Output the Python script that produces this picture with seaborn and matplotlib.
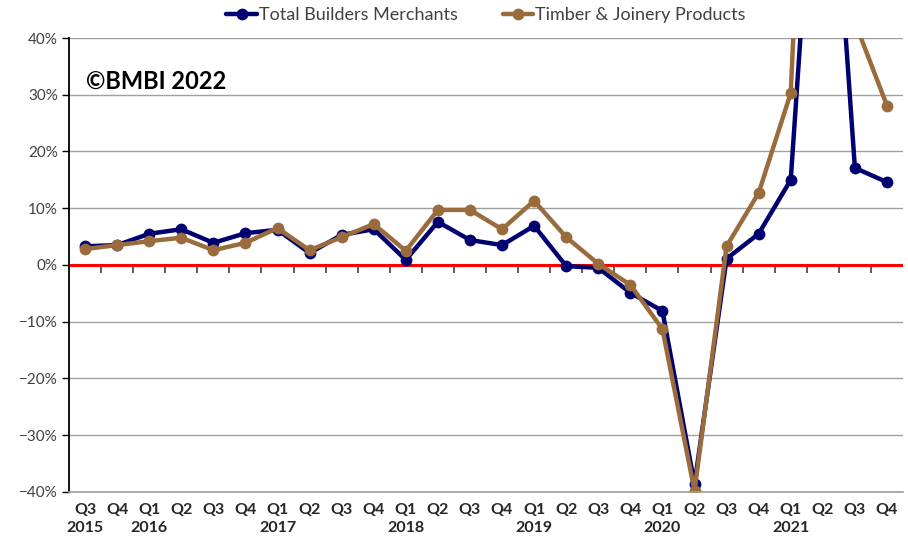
import pandas as pd
import numpy as np
import seaborn as sns
import matplotlib.pyplot as plt
from matplotlib.markers import TICKDOWN
from matplotlib.ticker import PercentFormatter

# quarter labels, Q3 2015 .. Q4 2021
quarters = ['Q3', 'Q4',
            'Q1', 'Q2', 'Q3', 'Q4',
            'Q1', 'Q2', 'Q3', 'Q4',
            'Q1', 'Q2', 'Q3', 'Q4',
            'Q1', 'Q2', 'Q3', 'Q4',
            'Q1', 'Q2', 'Q3', 'Q4',
            'Q1', 'Q2', 'Q3', 'Q4']
years = ['2015', '',
         '2016', '', '', '',
         '2017', '', '', '',
         '2018', '', '', '',
         '2019', '', '', '',
         '2020', '', '', '',
         '2021', '', '', '']

# year on year % change
total_bm = [3.3, 3.5, 5.5, 6.3, 3.9, 5.6, 6.2, 2.1, 5.3, 6.3,
            0.9, 7.6, 4.4, 3.5, 6.9, -0.2, -0.5, -4.9, -8.1, -38.6,
            1.1, 5.5, 15.0, 98.0, 17.1, 14.6]
timber = [2.8, 3.5, 4.2, 4.8, 2.6, 3.9, 6.5, 2.6, 4.9, 7.2,
          2.5, 9.7, 9.7, 6.3, 11.3, 4.9, 0.2, -3.5, -11.3, -39.8,
          3.3, 12.7, 30.3, 155.0, 42.8, 28.1]

series_names = ['Total Builders Merchants', 'Timber & Joinery Products']
series_colors = ['#000070', '#9A6B3C']

idx = np.arange(len(quarters))
df = pd.DataFrame({'idx': np.concatenate([idx, idx]),
                   'value': total_bm + timber,
                   'series': [series_names[0]] * len(idx) + [series_names[1]] * len(idx)})

sns.set_theme(style='white')
plt.rcParams['font.family'] = ['Lato', 'DejaVu Sans']

fig = plt.figure(figsize=(9.08, 5.4), dpi=100)
ax = fig.add_axes([0.076, 0.089, 0.9185, 0.8406])

for name, col in zip(series_names, series_colors):
    sns.lineplot(data=df[df['series'] == name], x='idx', y='value', ax=ax,
                 color=col, linewidth=3.2, marker='o', markersize=8.5,
                 markeredgewidth=0, label=name)

ax.set_xlim(-0.5, len(quarters) - 0.5)
ax.set_ylim(-40, 40)
ax.set_yticks(np.arange(-40, 41, 10))
ax.yaxis.set_major_formatter(PercentFormatter(decimals=0))
ax.grid(axis='y', color='#A0A0A0', linewidth=1)
ax.set_axisbelow(True)

# zero line is the category axis, small ticks between quarters
ax.axhline(0, color='#FF0000', linewidth=2.2, zorder=1.5)
boundaries = idx[:-1] + 0.5
ax.plot(boundaries, np.zeros(len(boundaries)), linestyle='none', marker=TICKDOWN,
        markersize=6, markeredgewidth=1.2, markeredgecolor='#404040',
        color='#404040', zorder=1.45)

labels = [q + '\n' + y if y else q for q, y in zip(quarters, years)]
ax.set_xticks(idx)
ax.set_xticklabels(labels, fontweight='bold', fontsize=11.5, linespacing=1.4)
ax.tick_params(axis='x', length=0, pad=8)
ax.tick_params(axis='y', length=5, width=1, color='black', left=True,
               labelsize=11, labelcolor='#404040', pad=3)

ax.set_xlabel('')
ax.set_ylabel('')
for s in ['top', 'right']:
    ax.spines[s].set_visible(False)
ax.spines['left'].set_color('black')
ax.spines['left'].set_linewidth(1.3)
ax.spines['bottom'].set_color('#A0A0A0')

ax.text(0.02, 0.93, '\u00a9BMBI 2022', transform=ax.transAxes, fontsize=17,
        fontweight='bold', color='black', va='top', ha='left')

ax.legend(loc='center', bbox_to_anchor=(0.5, 1.05), ncol=2, frameon=False,
          fontsize=13, handlelength=1.7, columnspacing=2.5, handletextpad=0.1,
          labelcolor='#404040')

fig.savefig('out.png', dpi=100)
